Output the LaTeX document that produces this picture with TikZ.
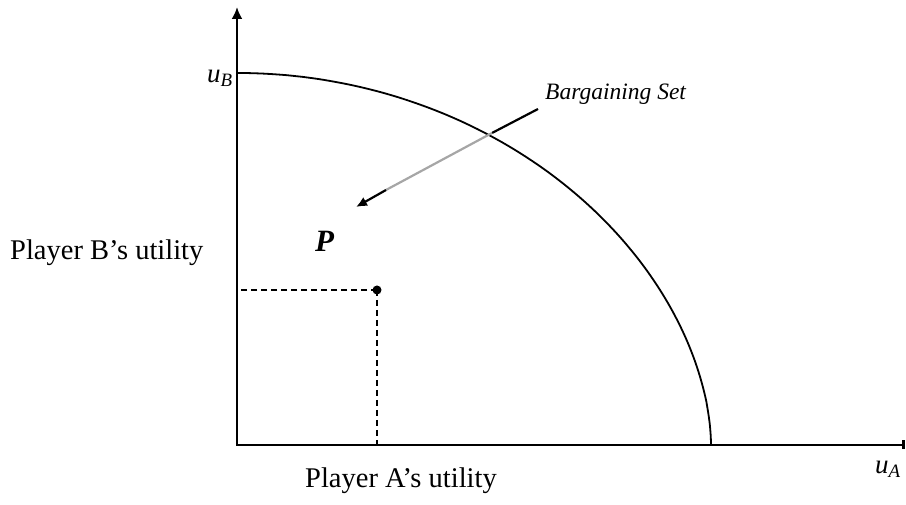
\documentclass[tikz,border=0pt]{standalone}
\usepackage{fontspec}
\setmainfont{Liberation Serif}
\usetikzlibrary{positioning,arrows.meta}

\begin{document}
\begin{tikzpicture}[x=1pt, y=1pt,
    axis/.style={line width=2.6pt, line join=miter},
    frontier/.style={line width=1.8pt},
    guide/.style={line width=1.7pt, dash pattern=on 6pt off 4pt},
    pointer/.style={line width=2.2pt},
    dot/.style={circle, fill=black, inner sep=0pt, minimum size=9pt},
    txt/.style={inner sep=0pt, font=\fontsize{28.5}{34}\selectfont},
    sym/.style={inner sep=0pt, font=\fontsize{27}{32}\selectfont}]

        \useasboundingbox (0,0) rectangle (906,505);

        % Axes
        \coordinate (O) at (237,60);
        \coordinate (ytop) at (237,498);
        \coordinate (xend) at (905,60);
        \draw[axis, {Latex[length=12pt,width=11pt]}-{Bar[width=9pt]}] (ytop) -- (O) -- (xend);

        % Axis symbols and names
        \node[sym, anchor=base west] (ub) at (207,422) {\textit{u}\textsubscript{\textit{B}}};
        \node[sym, anchor=base west] (ua) at (875,31) {\textit{u}\textsubscript{\textit{A}}};
        \node[txt, anchor=base west] (nameB) at (10,245) {Player B’s utility};
        \node[txt, anchor=base west] (nameA) at (305,17) {Player A’s utility};

        % Utility frontier
        \draw[frontier] plot[domain=0.01:90, samples=91, smooth, variable=\t]
            ({237+474*cos(\t)}, {60+372*sin(\t)^1.1});

        % Disagreement point with guide lines
        \node[dot] (d) at (377,215) {};
        \draw[guide] (d.center) -- (d.center -| O);
        \draw[guide] (d.center) -- (d.center |- O);

        % Bargaining set label and pointer
        \node[txt, font=\itshape\fontsize{23.5}{28}\selectfont, anchor=base west] (bset) at (545,405) {Bargaining Set};
        \node[txt, font=\bfseries\itshape\fontsize{31}{36}\selectfont, anchor=base west] (P) at (315,253) {P};
        \coordinate (pstart) at (538,396);
        \coordinate (pcross) at (492,372);
        \coordinate (pgrey) at (386,315);
        \coordinate (ptip) at (356,298);
        \draw[pointer] (pstart) -- (pcross);
        \draw[pointer, gray!70] (pcross) -- (pgrey);
        \draw[pointer, -{Latex[length=11pt,width=10pt]}] (pgrey) -- (ptip);

\end{tikzpicture}
\end{document}
